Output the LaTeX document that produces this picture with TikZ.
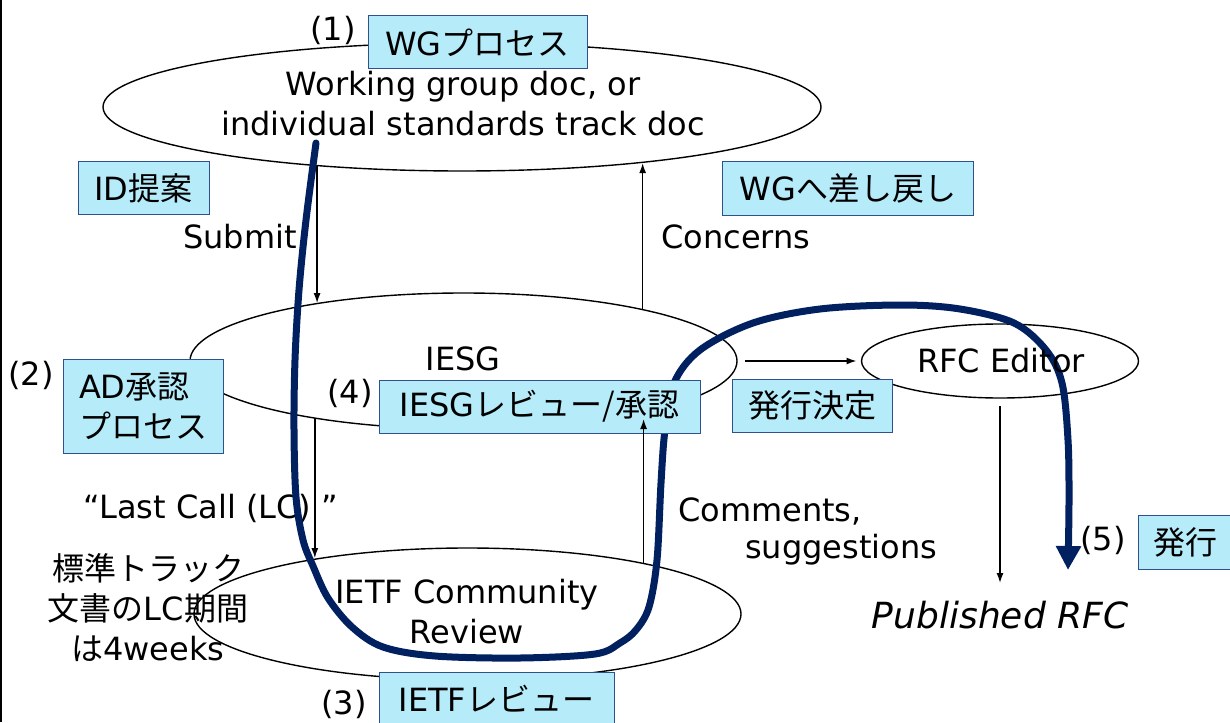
\documentclass[tikz,border=0pt]{standalone}
\usepackage{fontspec}
\setmainfont{DejaVu Sans}
\newfontfamily\jp{Noto Sans CJK JP}
\usetikzlibrary{shapes.geometric,arrows.meta}
\definecolor{boxfill}{RGB}{182,235,250}
\definecolor{boxline}{RGB}{47,82,143}
\definecolor{navy}{RGB}{0,32,96}
\begin{document}
\begin{tikzpicture}[x=1pt,y=-1pt,
  lbl/.style={inner sep=0pt, font=\fontsize{32}{40}\selectfont},
  jbox/.style={draw=boxline, fill=boxfill, line width=1pt, inner sep=0pt, font=\fontsize{32}{40}\selectfont},
  ell/.style={ellipse, draw, line width=1.4pt, inner sep=0pt, outer sep=0pt},
  arr/.style={line width=1.4pt, -{Latex[length=10pt,width=7pt]}},
  navyline/.style={draw=navy, line width=7pt, line cap=round, -{Triangle[length=24pt,width=24pt]}}]
\useasboundingbox (0,0) rectangle (1230,722);
\draw[line width=1.5pt] (1,0) -- (1,722);

% ellipses
\node[ell, minimum width=718pt, minimum height=128pt] (wg) at (462,107) {};
\node[ell, minimum width=547pt, minimum height=136pt] (iesg) at (463.5,361) {};
\node[ell, minimum width=277pt, minimum height=74pt] (rfc) at (1000,361) {};
\node[ell, minimum width=547pt, minimum height=132pt] (comm) at (467.5,614) {};

\node[lbl] (lct) at (211,508) {“Last Call (LC) ”};

% navy path
\draw[navyline] plot[smooth, tension=0.55] coordinates {
 (316,143) (306,220) (299,290) (295,360) (294,430) (296,497) (303,540)
 (313,566) (328,598) (352,627) (383,647) (435,656) (520,658) (595,654)
 (620,643) (636,630) (649,607) (657,560) (661,483) (665,430) (674,383)
 (700,350) (753,323) (820,309) (901,305) (960,309) (1014,323) (1046,350)
 (1062,383) (1068,440) (1069,500) (1068,570)};

% texts
\node[lbl, align=center] (wgt) at (463,104) {Working group doc, or\\individual standards track doc};
\node[lbl] (iesgt) at (463,359) {IESG};
\node[lbl] (rfct) at (1001,361) {RFC Editor};
\node[lbl, align=center] (commt) at (467,612) {IETF Community\\Review};
\node[lbl, font=\fontsize{36}{40}\selectfont\itshape] (pub) at (1000,615) {Published RFC};
\node[lbl] (subt) at (240,237) {Submit};
\node[lbl] (cont) at (736,237) {Concerns};
\node[lbl, anchor=base west] (cm1) at (678,521) {Comments,};
\node[lbl, anchor=base west] (cm2) at (745,558) {suggestions};
\node[lbl, align=center] (lcnote) at (148,608) {{\jp 標準トラック}\\{\jp 文書の}LC{\jp 期間}\\{\jp は}4weeks};
\node[lbl] (n1) at (333,30) {(1)};
\node[lbl] (n2) at (31,375) {(2)};
\node[lbl] (n4) at (350,393) {(4)};
\node[lbl] (n3) at (344,704) {(3)};
\node[lbl] (n5) at (1103,540) {(5)};

% boxes
\node[jbox, minimum width=219pt, minimum height=53pt] (b1) at (477.5,42.5) {WG{\jp プロセス}};
\node[jbox, minimum width=131pt, minimum height=52pt] (b2) at (143.5,188) {ID{\jp 提案}};
\node[jbox, minimum width=251pt, minimum height=53pt] (b3) at (848,188.5) {WG{\jp へ差し戻し}};
\node[jbox, minimum width=160pt, minimum height=94pt, align=left] (b4) at (143,406) {AD{\jp 承認}\\{\jp プロセス}};
\node[jbox, minimum width=321pt, minimum height=53pt] (b5) at (539.5,406.5) {IESG{\jp レビュー/承認}};
\node[jbox, minimum width=160pt, minimum height=53pt] (b6) at (812,405.5) {{\jp 発行決定}};
\node[jbox, minimum width=235pt, minimum height=53pt] (b7) at (496.5,698.5) {IETF{\jp レビュー}};
\node[jbox, minimum width=94pt, minimum height=54pt] (b8) at (1185,542) {{\jp 発行}};

% arrows
\coordinate (cmtip) at (639,419);
\coordinate (pubtip) at (1000,583);
\draw[arr] (wg.202.2) -- (wg.202.2 |- iesg.158.4);
\draw[arr] (iesg.16.7) -- (iesg.16.7 |- wg.342.4);
\draw[arr] (iesg.201.6) -- (iesg.201.6 |- comm.159.7);
\draw[arr] (comm.16.7) -- (comm.16.7 |- cmtip);
\draw[arr] ([xshift=8pt]iesg.east) -- ([xshift=-5pt]rfc.west);
\draw[arr] ([yshift=-8pt]rfc.south) -- (pubtip);
\end{tikzpicture}
\end{document}
